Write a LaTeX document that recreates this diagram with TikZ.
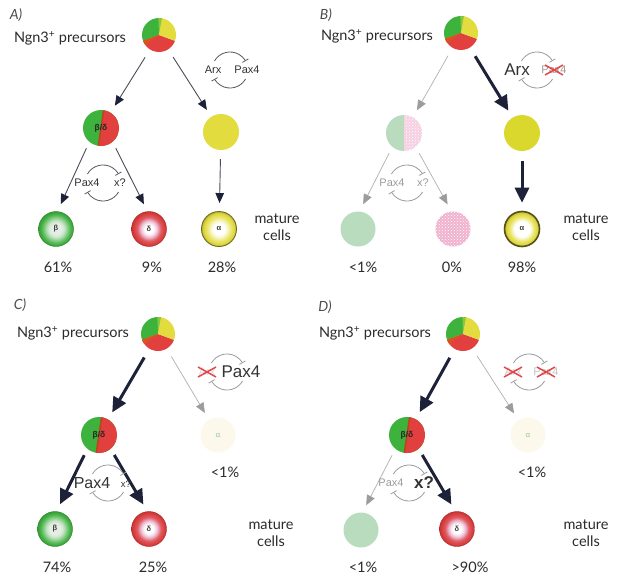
\documentclass[tikz,border=0pt]{standalone}
\usepackage{fontspec}
\setmainfont{Lato}
\newfontfamily\arialf{Liberation Sans}
\usetikzlibrary{arrows.meta,patterns}
\definecolor{cgreen}{HTML}{3DB33D}
\definecolor{lgreen}{HTML}{86C83E}
\definecolor{cred}{HTML}{E2403E}
\definecolor{cyellow}{HTML}{E2DC3E}
\definecolor{yelB}{HTML}{DAD82C}
\definecolor{corange}{HTML}{D9531E}
\definecolor{navy}{HTML}{1E2238}
\definecolor{arrline}{HTML}{4A4E58}
\definecolor{fade}{HTML}{9C9C9C}
\definecolor{palegreen}{HTML}{B9DCBF}
\definecolor{pinkfill}{HTML}{F0B2CF}
\definecolor{pinkbg}{HTML}{F6D0E2}
\definecolor{txt}{HTML}{2B2B2B}
\definecolor{loopc}{HTML}{555A62}
\definecolor{cream}{HTML}{FCF8EC}
\definecolor{xred}{HTML}{E24848}
\definecolor{bcA}{HTML}{E4EEE4}
\definecolor{bcB}{HTML}{C6E4C6}
\definecolor{bcC}{HTML}{8CCF8C}
\definecolor{bcD}{HTML}{48B448}
\definecolor{bcE}{HTML}{359E35}
\definecolor{dcB}{HTML}{F5DDE8}
\definecolor{dcC}{HTML}{E8A8C0}
\definecolor{dcD}{HTML}{E25A5E}
\definecolor{dcE}{HTML}{CF3030}
\definecolor{acB}{HTML}{F6F4C0}
\definecolor{acC}{HTML}{EBE66A}
\definecolor{acD}{HTML}{DDD640}
\definecolor{acE}{HTML}{BDB434}
\pgfdeclareradialshading{betash}{\pgfpointorigin}{color(0bp)=(bcA); color(8bp)=(bcA); color(12bp)=(bcB); color(16bp)=(bcC); color(21bp)=(bcD); color(25bp)=(bcE); color(50bp)=(bcE)}
\pgfdeclareradialshading{deltash}{\pgfpointorigin}{color(0bp)=(white); color(6bp)=(white); color(9.5bp)=(dcB); color(13bp)=(dcC); color(17bp)=(dcD); color(25bp)=(dcE); color(50bp)=(dcE)}
\pgfdeclareradialshading{alphash}{\pgfpointorigin}{color(0bp)=(white); color(8bp)=(white); color(12.5bp)=(acB); color(17bp)=(acC); color(22bp)=(acD); color(25bp)=(acE); color(50bp)=(acE)}
\pgfdeclareradialshading{alphashB}{\pgfpointorigin}{color(0bp)=(white); color(11bp)=(white); color(14bp)=(acB); color(17.5bp)=(acC); color(22bp)=(acD); color(25bp)=(acE); color(50bp)=(acE)}
\tikzset{
  every node/.style={text=txt},
  lab/.style={font=\itshape\fontsize{14}{14}\selectfont, text=black!70},
  ngn/.style={font=\fontsize{14.5}{16}\selectfont},
  mat/.style={font=\fontsize{14.5}{17}\selectfont, align=center},
  pct/.style={font=\fontsize{14.5}{16}\selectfont},
  gene/.style={font=\arialf\fontsize{11}{11}\selectfont, text=black!80, inner sep=1pt},
  genebig/.style={font=\arialf\fontsize{17}{17}\selectfont, text=black!80, inner sep=1pt},
  genefade/.style={font=\arialf\fontsize{11}{11}\selectfont, text=fade, inner sep=1pt},
  cell/.style={circle, inner sep=0pt, minimum size=35pt, font=\arialf\bfseries\fontsize{7.5}{7.5}\selectfont, text=black!75},
  pie/.style={circle, inner sep=0pt, minimum size=34pt, path picture={
    \fill[cgreen] (path picture bounding box.center) -- +(80:18pt) arc[start angle=80,end angle=200,radius=18pt] -- cycle;
    \fill[lgreen] (path picture bounding box.center) -- +(78:18pt) arc[start angle=78,end angle=92,radius=18pt] -- cycle;
    \fill[cred] (path picture bounding box.center) -- +(200:18pt) arc[start angle=200,end angle=340,radius=18pt] -- cycle;
    \fill[corange] (path picture bounding box.center) -- +(200:18pt) arc[start angle=200,end angle=216,radius=18pt] -- cycle;
    \fill[cyellow] (path picture bounding box.center) -- +(340:18pt) arc[start angle=340,end angle=440,radius=18pt] -- cycle;
  }},
  bd/.style={circle, inner sep=0pt, minimum size=36pt, font=\arialf\bfseries\fontsize{8.5}{8.5}\selectfont, text=black!85, path picture={
    \fill[cgreen] (path picture bounding box.south west) rectangle (path picture bounding box.north east);
    \fill[cred] (path picture bounding box.center) ++(3pt,20pt) -- ++(20pt,0pt) -- ++(0pt,-40pt) -- ++(-26pt,0pt) -- cycle;
    \draw[corange!85!black, line width=1.6pt] (path picture bounding box.center) ++(3pt,20pt) -- ++(-6pt,-40pt);
  }},
  bdB/.style={circle, inner sep=0pt, minimum size=36pt, path picture={
    \fill[palegreen] (path picture bounding box.south west) rectangle (path picture bounding box.north);
    \fill[pinkbg] (path picture bounding box.south) rectangle (path picture bounding box.north east);
    \fill[pattern=crosshatch dots, pattern color=white] (path picture bounding box.south) rectangle (path picture bounding box.north east);
  }},
  yel/.style={circle, inner sep=0pt, minimum size=36pt, fill=cyellow},
  yelb/.style={circle, inner sep=0pt, minimum size=36pt, fill=yelB},
  faint/.style={circle, inner sep=0pt, minimum size=35pt, fill=cream, font=\fontsize{8}{8}\selectfont, text=green!25!gray!60},
  betacell/.style={cell, shading=betash, draw=bcE!80!black, line width=0.4pt},
  deltacell/.style={cell, shading=deltash, draw=dcE!80!black, line width=0.4pt},
  alphacell/.style={cell, shading=alphash, draw=acE!60!black, line width=0.9pt},
  alphacellB/.style={cell, shading=alphashB, draw=acE!45!black, line width=1.6pt},
  palecell/.style={circle, inner sep=0pt, minimum size=35pt, fill=palegreen},
  pinkcell/.style={circle, inner sep=0pt, minimum size=35pt, fill=pinkfill, postaction={pattern=crosshatch dots, pattern color=white}},
  thinarr/.style={draw=arrline, line width=0.9pt, -{Triangle[length=10pt,width=8.5pt,color=navy]}, shorten <=9pt, shorten >=8pt},
  thickarr/.style={draw=navy, line width=3pt, -{Triangle[length=15pt,width=14pt]}, shorten <=10pt, shorten >=8pt},
  grayarr/.style={draw=fade!80, line width=0.7pt, -{Triangle[length=10pt,width=8.5pt,color=fade]}, shorten <=9pt, shorten >=8pt},
  low/.style={shorten <=7pt, shorten >=8pt},
  pics/inhib/.style={code={
    \draw[line width=0.8pt, #1, -{Bar[width=7pt]}] (150:18pt and 18pt) arc[start angle=150,end angle=30,x radius=18pt,y radius=18pt];
    \draw[line width=0.8pt, #1, -{Bar[width=7pt]}] (-30:18pt and 18pt) arc[start angle=-30,end angle=-150,x radius=18pt,y radius=18pt];
  }},
  pics/xmark/.style={code={
    \draw[xred, line width=1.5pt] (-9pt,-5pt) -- (9pt,5pt) (-9pt,5pt) -- (9pt,-5pt);
  }}
}
\begin{document}
\begin{tikzpicture}[x=1pt,y=1pt]
\useasboundingbox[fill=white] (0,0) rectangle (621,-586);
% ---------------- Panel A
\node[lab] (Alab) at (16,-15) {A)};
\node[ngn] (Angn) at (70,-38) {Ngn3\textsuperscript{+} precursors};
\node[pie] (AT) at (159,-35) {};
\node[bd] (ABD) at (101,-128) {β/δ};
\node[yel] (AY) at (221,-132) {};
\node[betacell] (Ab) at (56,-229) {β};
\node[deltacell] (Ad) at (149,-229) {δ};
\node[alphacell] (Aa) at (219,-229) {α};
\node[mat] (Amat) at (277,-227.5) {mature\\cells};
\node[pct] (Ap1) at (58,-267) {61\%};
\node[pct] (Ap2) at (152,-267) {9\%};
\node[pct] (Ap3) at (222,-267) {28\%};
\draw[thinarr] (AT) -- (ABD);
\draw[thinarr] (AT) -- (AY);
\draw[thinarr, low] (ABD.-130) -- (Ab.85);
\draw[thinarr, low] (ABD.-50) -- (Ad.95);
\draw[thinarr] (AY) -- (Aa);
\pic at (230,-70) {inhib=loopc};
\node[gene] (Aarx) at (213,-70) {Arx};
\node[gene] (Apax) at (247,-70) {Pax4};
\pic at (103,-183) {inhib=loopc};
\node[gene] (Apax2) at (87,-183) {Pax4};
\node[gene] (Ax) at (120,-183) {x?};
% ---------------- Panel B
\node[lab] (Blab) at (326,-15) {B)};
\node[ngn] (Bngn) at (377,-36) {Ngn3\textsuperscript{+} precursors};
\node[pie] (BT) at (461,-33) {};
\node[bdB] (BBD) at (404,-133) {};
\node[yelb] (BY) at (522,-133) {};
\node[palecell] (Bb) at (358,-229) {};
\node[pinkcell] (Bd) at (453,-229) {};
\node[alphacellB] (Ba) at (522,-229) {α};
\node[mat] (Bmat) at (586,-227.5) {mature\\cells};
\node[pct] (Bp1) at (363,-267) {<1\%};
\node[pct] (Bp2) at (452,-267) {0\%};
\node[pct] (Bp3) at (522,-267) {98\%};
\draw[grayarr] (BT) -- (BBD);
\draw[thickarr] (BT) -- (BY);
\draw[grayarr, low] (BBD.-130) -- (Bb.85);
\draw[grayarr, low] (BBD.-50) -- (Bd.95);
\draw[thickarr] (BY) -- (Ba);
\pic at (537,-70) {inhib=fade};
\node[genebig] (Barx) at (517,-70) {Arx};
\node[genefade] (Bpax) at (554,-70) {Pax4};
\pic at (554,-70) {xmark};
\pic at (407,-183) {inhib=fade};
\node[genefade] (Bpax2) at (392,-183) {Pax4};
\node[genefade] (Bx) at (423,-183) {x?};
% ---------------- Panel C
\node[lab] (Clab) at (20,-305) {C)};
\node[ngn] (Cngn) at (73,-333) {Ngn3\textsuperscript{+} precursors};
\node[pie] (CT) at (158,-334) {};
\node[bd] (CBD) at (99,-435) {β/δ};
\node[faint] (Ca) at (218,-435) {α};
\node[betacell] (Cb) at (55,-529) {β};
\node[deltacell] (Cd) at (149,-529) {δ};
\node[mat] (Cmat) at (271,-533) {mature\\cells};
\node[pct] (Cp0) at (225,-472) {<1\%};
\node[pct] (Cp1) at (57,-567) {74\%};
\node[pct] (Cp2) at (153,-567) {25\%};
\draw[thickarr] (CT) -- (CBD);
\draw[grayarr] (CT) -- (Ca);
\draw[thickarr, low] (CBD.-130) -- (Cb.85);
\draw[thickarr, low] (CBD.-50) -- (Cd.95);
\pic at (227,-372) {inhib=fade};
\node[genefade, text=fade!35] (Carx) at (207,-372) {Arx};
\pic at (207,-372) {xmark};
\node[genebig] (Cpax) at (241,-372) {Pax4};
\pic at (108,-483) {inhib=fade};
\node[font=\arialf\fontsize{16}{16}\selectfont, text=black!80, inner sep=1pt] (Cpax2) at (92,-483) {Pax4};
\node[gene, font=\arialf\fontsize{9.5}{9.5}\selectfont] (Cx) at (126,-484) {x?};
% ---------------- Panel D
\node[lab] (Dlab) at (325,-307) {D)};
\node[ngn] (Dngn) at (375,-333) {Ngn3\textsuperscript{+} precursors};
\node[pie] (DT) at (463,-334) {};
\node[bd] (DBD) at (407,-435) {β/δ};
\node[faint] (Da) at (528,-435) {α};
\node[palecell] (Db) at (361,-530) {};
\node[deltacell] (Dd) at (457,-529) {δ};
\node[mat] (Dmat) at (586,-533) {mature\\cells};
\node[pct] (Dp0) at (532,-472) {<1\%};
\node[pct] (Dp1) at (363,-567) {<1\%};
\node[pct] (Dp2) at (470,-567) {>90\%};
\draw[thickarr] (DT) -- (DBD);
\draw[grayarr] (DT) -- (Da);
\draw[grayarr, low] (DBD.-130) -- (Db.85);
\draw[thickarr, low] (DBD.-50) -- (Dd.95);
\pic at (529,-372) {inhib=fade};
\node[genefade, text=fade!50] (Darx) at (513,-372) {Arx};
\pic at (513,-372) {xmark};
\node[genefade, text=fade!60] (Dpax) at (546,-372) {Pax4};
\pic at (546,-372) {xmark};
\pic at (409,-483) {inhib=fade};
\node[genefade] (Dpax2) at (391,-483) {Pax4};
\node[font=\arialf\bfseries\fontsize{17}{17}\selectfont, text=black!80, inner sep=1pt] (Dx) at (424,-483) {x?};
\end{tikzpicture}
\end{document}
